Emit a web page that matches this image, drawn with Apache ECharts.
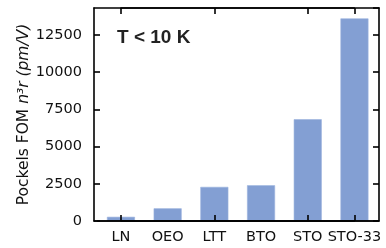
<!DOCTYPE html>
<html lang="en">
<head>
    <meta charset="UTF-8">
    <title>Pockels FOM</title>
    <script src="https://cdn.jsdelivr.net/npm/echarts@6/dist/echarts.min.js"></script>
    <style>
        html, body { margin: 0; padding: 0; background: #fff; }
    </style>
</head>
<body>
<div id="chart" style="width: 386px;height: 248px"></div>
<script type="text/javascript">
    // materials and their n^3 r values (pm/V)
    var categories = ['LN', 'OEO', 'LTT', 'BTO', 'STO', 'STO-33'];
    var fomValues = [280, 850, 2290, 2400, 6830, 13600];
    var yMax = 14300;
    var yStep = 2500;

    var font = 'DejaVu Sans';
    var chart = echarts.init(document.getElementById('chart'));

    function line() { return { color: '#000', width: 1.6 }; }
    function ticks() { return { show: true, inside: true, length: 6, lineStyle: line() }; }
    function hiddenY(grid) { return { type: 'value', gridIndex: grid, min: 0, max: yMax, show: false }; }

    // grid 0: frame + y axes
    // grid 1: spans bar centre to bar centre, its band edges give the category ticks
    // grid 2: the bars and category labels
    var option = {
        animation: false,
        title: {
            text: 'T < 10 K',
            left: 112,
            top: 23,
            textStyle: { fontFamily: 'Liberation Sans', fontWeight: 'bold', fontSize: 19, color: '#222' }
        },
        grid: [
            { left: 94, right: 7, top: 8, bottom: 27 },
            { left: 121, right: 31.7, top: 8, bottom: 27 },
            { left: 97.6, right: 8.2, top: 8, bottom: 27 }
        ],
        xAxis: [
            { type: 'value', gridIndex: 0, position: 'bottom', min: 0, max: 1, z: 3,
              axisLine: { show: true, onZero: false, lineStyle: line() },
              axisTick: { show: false }, axisLabel: { show: false }, splitLine: { show: false } },
            { type: 'value', gridIndex: 0, position: 'top', min: 0, max: 1, z: 3,
              axisLine: { show: true, onZero: false, lineStyle: line() },
              axisTick: { show: false }, axisLabel: { show: false }, splitLine: { show: false } },
            { type: 'category', gridIndex: 1, position: 'bottom', data: categories.slice(1), z: 4,
              axisLine: { show: true, onZero: false, lineStyle: line() },
              axisTick: ticks(), axisLabel: { show: false } },
            { type: 'category', gridIndex: 1, position: 'top', data: categories.slice(1), z: 4,
              axisLine: { show: true, onZero: false, lineStyle: line() },
              axisTick: ticks(), axisLabel: { show: false } },
            { type: 'category', gridIndex: 2, position: 'bottom', data: categories, z: 3,
              axisLine: { show: true, onZero: false, lineStyle: line() },
              axisTick: { show: false },
              axisLabel: { margin: 9, interval: 0, fontFamily: font, fontSize: 14.5, color: '#111' } }
        ],
        yAxis: [
            { type: 'value', gridIndex: 0, position: 'left', min: 0, max: yMax, interval: yStep, z: 3,
              name: '{n|Pockels FOM }{i|n³r (pm/V)}',
              nameLocation: 'middle',
              nameGap: 62,
              nameMoveOverlap: false,
              nameTextStyle: {
                  rich: {
                      n: { fontFamily: font, fontSize: 15.5, color: '#111' },
                      i: { fontFamily: font, fontSize: 15.5, fontStyle: 'italic', color: '#111' }
                  }
              },
              axisLine: { show: true, onZero: false, lineStyle: line() },
              axisTick: ticks(),
              axisLabel: { margin: 12, showMaxLabel: false, fontFamily: font, fontSize: 14.5, color: '#111',
                  formatter: function (v) { return String(v); } },
              splitLine: { show: false } },
            { type: 'value', gridIndex: 0, position: 'right', min: 0, max: yMax, interval: yStep, z: 3,
              axisLine: { show: true, onZero: false, lineStyle: line() },
              axisTick: ticks(),
              axisLabel: { show: false }, splitLine: { show: false } },
            hiddenY(1),
            hiddenY(2)
        ],
        series: [
            {
                type: 'bar',
                xAxisIndex: 4,
                yAxisIndex: 3,
                data: fomValues,
                barWidth: 28,
                itemStyle: { color: '#839fd3', borderColor: '#9ab2dd', borderWidth: 0.6 }
            }
        ]
    };
    chart.setOption(option);
</script>
</body>
</html>
